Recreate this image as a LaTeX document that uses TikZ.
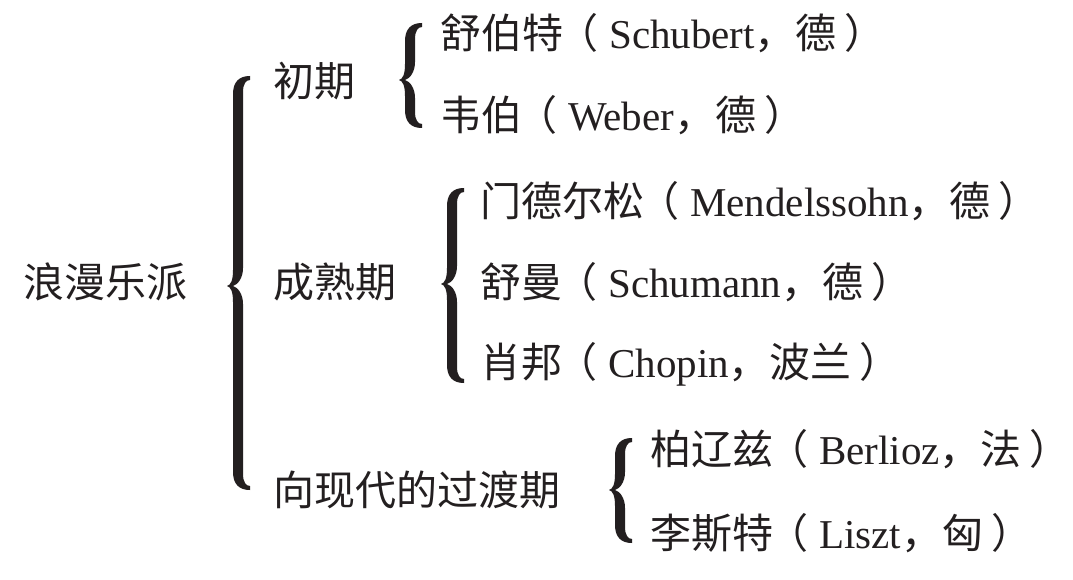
\documentclass[tikz,border=0pt]{standalone}
\usepackage{fontspec}
\setmainfont{Liberation Serif}
\newfontfamily\cjk{Noto Sans CJK SC}
\definecolor{ink}{RGB}{35,31,32}
\newcommand\mylp{\hspace{-6pt}{\cjk （}\hspace{11pt}}
\newcommand\mycm{{\cjk ，}}
\newcommand\myrp{\hspace{8pt}{\cjk ）}}
% typographic brace: #1 x of curl ends, #2 top y, #3 tip y, #4 bottom y
\newcommand\tbrace[4]{%
\fill[ink] (#1,#2)
 .. controls ({#1-11},{#2}) and ({#1-17},{#2+6}) .. ({#1-17},{#2+18})
 -- ({#1-17},{#3-16})
 .. controls ({#1-17},{#3-6}) and ({#1-19},{#3-1}) .. ({#1-23},{#3})
 .. controls ({#1-19},{#3+1}) and ({#1-17},{#3+6}) .. ({#1-17},{#3+16})
 -- ({#1-17},{#4-18})
 .. controls ({#1-17},{#4-6}) and ({#1-11},{#4}) .. (#1,#4)
 -- ({#1},{#4-4})
 .. controls ({#1-4},{#4-4}) and ({#1-7},{#4-8}) .. ({#1-7},{#4-16})
 -- ({#1-7},{#3+18})
 .. controls ({#1-7},{#3+8}) and ({#1-12},{#3+1.5}) .. ({#1-17},{#3})
 .. controls ({#1-12},{#3-1.5}) and ({#1-7},{#3-8}) .. ({#1-7},{#3-18})
 -- ({#1-7},{#2+16})
 .. controls ({#1-7},{#2+8}) and ({#1-4},{#2+4}) .. ({#1},{#2+4})
 -- cycle;}
\begin{document}
\begin{tikzpicture}[x=1pt,y=-1pt,
  txt/.style={anchor=base west, inner sep=0pt, text=ink, font=\fontsize{41}{43}\selectfont}]
\useasboundingbox (0,0) rectangle (1073,580);
\node[txt] (root) at (23,297) {\cjk 浪漫乐派};
\node[txt] (a) at (273,97) {\cjk 初期};
\node[txt] (b) at (273,297) {\cjk 成熟期};
\node[txt] (c) at (273,505) {\cjk 向现代的过渡期};
\node[txt] (a1) at (440,49) {{\cjk 舒伯特}\mylp Schubert\mycm{\cjk 德}\myrp};
\node[txt] (a2) at (440,131) {{\cjk 韦伯}\mylp Weber\mycm{\cjk 德}\myrp};
\node[txt] (b1) at (480,216) {{\cjk 门德尔松}\mylp Mendelssohn\mycm{\cjk 德}\myrp};
\node[txt] (b2) at (480,297) {{\cjk 舒曼}\mylp Schumann\mycm{\cjk 德}\myrp};
\node[txt] (b3) at (480,377) {{\cjk 肖邦}\mylp Chopin\mycm{\cjk 波兰}\myrp};
\node[txt] (c1) at (650,464) {{\cjk 柏辽兹}\mylp Berlioz\mycm{\cjk 法}\myrp};
\node[txt] (c2) at (650,548) {{\cjk 李斯特}\mylp Liszt\mycm{\cjk 匈}\myrp};
\tbrace{250}{76}{286}{490}
\tbrace{422}{23}{80}{128}
\tbrace{464}{188}{284}{383}
\tbrace{632}{438}{490}{543}
\end{tikzpicture}
\end{document}
